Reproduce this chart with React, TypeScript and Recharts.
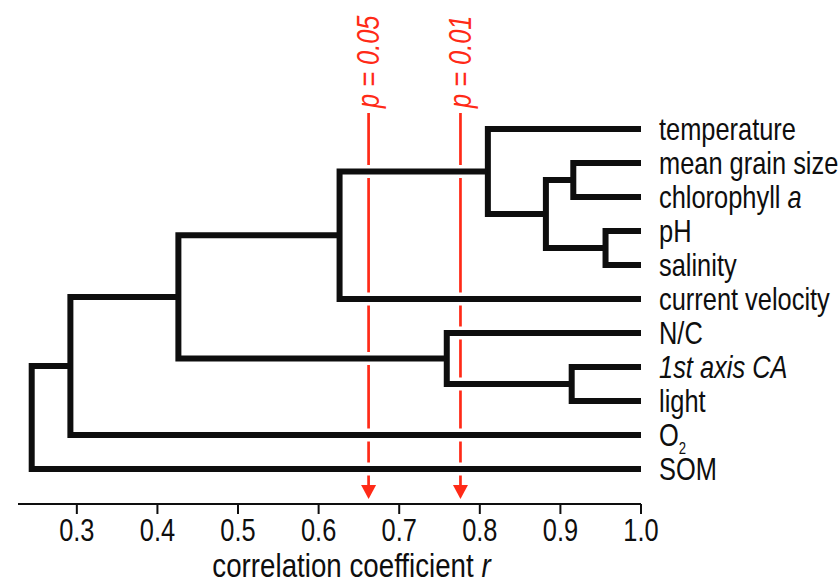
import React from 'react'
import { ComposedChart, XAxis, YAxis, Line, Scatter } from 'recharts'

// leaves, top to bottom
const leaves = [
  'temperature', 'mean grain size', 'chlorophyll a', 'pH', 'salinity',
  'current velocity', 'N/C', '1st axis CA', 'light', 'O2', 'SOM',
]

// merges: [left child, right child, correlation r]
const merges: [string, string, number][] = [
  ['pH', 'salinity', 0.956],
  ['mean grain size', 'chlorophyll a', 0.916],
  ['m2', 'm1', 0.882],
  ['temperature', 'm3', 0.81],
  ['m4', 'current velocity', 0.626],
  ['1st axis CA', 'light', 0.914],
  ['N/C', 'm6', 0.759],
  ['m5', 'm7', 0.426],
  ['m8', 'O2', 0.292],
  ['m9', 'SOM', 0.244],
]

const pLabels = ['p = 0.05', 'p = 0.01']
const pValues = [0.662, 0.776]

const xTicks = [0.3, 0.4, 0.5, 0.6, 0.7, 0.8, 0.9, 1.0]

// no narrow face installed, so squeeze Liberation Sans horizontally
const FONT = "'Liberation Sans', Arial, sans-serif"
const SQUEEZE = 0.82
const RED = '#ff2a17'
const INK = '#0e0e0e'

// layout (in axis units)
const Y_DOMAIN: [number, number] = [-3.794, 11.029]
const RED_TOP = -0.47
const RED_BASE = 10.5
const RED_TIP = 10.88

// build node positions
const nodes: Record<string, { r: number; y: number }> = {}
leaves.forEach((name, i) => { nodes[name] = { r: 1.0, y: i } })
const links = merges.map(([a, b, r], i) => {
  const na = nodes[a]
  const nb = nodes[b]
  nodes['m' + (i + 1)] = { r, y: (na.y + nb.y) / 2 }
  return [
    { x: na.r, y: na.y },
    { x: r, y: na.y },
    { x: r, y: nb.y },
    { x: nb.r, y: nb.y },
  ]
})

const redLines = pValues.map((r) => [{ x: r, y: RED_TOP }, { x: r, y: RED_BASE }])
const arrows = pValues.map((r) => ({ x: r, y: RED_TIP }))
const pTexts = pValues.map((r, i) => ({ x: r, y: RED_TOP, label: pLabels[i] }))

const Narrow = ({ x, y, rotate = 0, sx = SQUEEZE, children, ...rest }: any) => (
  <g transform={`translate(${x},${y}) rotate(${rotate}) scale(${sx},1)`}>
    <text x={0} y={0} fontFamily={FONT} {...rest}>{children}</text>
  </g>
)

const LeafTick = (props: any) => {
  const { x, y, payload } = props
  const name = leaves[payload.value]
  if (name === undefined) return null
  let content: React.ReactNode = name
  if (name === 'chlorophyll a') content = <>chlorophyll <tspan fontStyle="italic">a</tspan></>
  if (name === '1st axis CA') content = <tspan fontStyle="italic">{name}</tspan>
  if (name === 'O2') content = <>O<tspan fontSize={16} dy={8}>2</tspan></>
  return (
    <Narrow x={x} y={y} dy="0.35em" textAnchor="start" fontSize={31} fill={INK}>
      {content}
    </Narrow>
  )
}

const RTick = (props: any) => {
  const { x, y, payload } = props
  return (
    <Narrow x={x} y={y} dy="0.71em" textAnchor="middle" fontSize={31} fill={INK}>
      {Number(payload.value).toFixed(1)}
    </Narrow>
  )
}

const Arrow = (props: any) => {
  const { cx, cy } = props
  return <path d={`M${cx - 7.5},${cy - 14} L${cx + 7.5},${cy - 14} L${cx},${cy} Z`} fill={RED} />
}

const PText = (props: any) => {
  const { cx, cy, payload } = props
  return (
    <Narrow x={cx} y={cy - 5} rotate={-90} dy="0.35em" textAnchor="start"
            fontSize={31} fontStyle="italic" fill={RED}>
      {payload.label}
    </Narrow>
  )
}

const AxisTitle = (props: any) => {
  const vb = props.viewBox
  return (
    <Narrow x={vb.x + vb.width / 2 + 22} y={vb.y + vb.height - 4} sx={0.84} textAnchor="middle"
            fontSize={33} fill={INK}>
      correlation coefficient <tspan fontStyle="italic">r</tspan>
    </Narrow>
  )
}

export default function App() {
  return (
    <div style={{ position: 'absolute', left: 0, top: 0, width: 840, height: 581, background: '#fff' }}>
      <ComposedChart width={840} height={581} margin={{ top: 0, right: 0, bottom: 0, left: 18 }}>
        <XAxis dataKey="x" type="number" domain={[0.227, 1.0]} allowDataOverflow ticks={xTicks}
               interval={0} height={77} tickSize={10} tickMargin={5}
               axisLine={{ stroke: INK, strokeWidth: 2 }} tickLine={{ stroke: INK, strokeWidth: 2 }}
               tick={<RTick />} label={<AxisTitle />} />
        <YAxis dataKey="y" type="number" orientation="right" reversed domain={Y_DOMAIN} allowDataOverflow
               width={199} ticks={leaves.map((_, i) => i)} interval={0}
               axisLine={false} tickLine={false} tickSize={0} tickMargin={18} tick={<LeafTick />} />
        {redLines.map((d, i) => (
          <Line key={'r' + i} data={d} dataKey="y" stroke={RED} strokeWidth={2.7}
                dot={false} activeDot={false} isAnimationActive={false} type="linear" />
        ))}
        {links.map((d, i) => (
          <Line key={'w' + i} data={d} dataKey="y" stroke="#fff" strokeWidth={13}
                dot={false} activeDot={false} isAnimationActive={false} type="linear" />
        ))}
        {links.map((d, i) => (
          <Line key={'k' + i} data={d} dataKey="y" stroke={INK} strokeWidth={6} strokeLinejoin="miter"
                dot={false} activeDot={false} isAnimationActive={false} type="linear" />
        ))}
        <Scatter data={arrows} dataKey="y" shape={<Arrow />} isAnimationActive={false} />
        <Scatter data={pTexts} dataKey="y" shape={<PText />} isAnimationActive={false} />
      </ComposedChart>
    </div>
  )
}
